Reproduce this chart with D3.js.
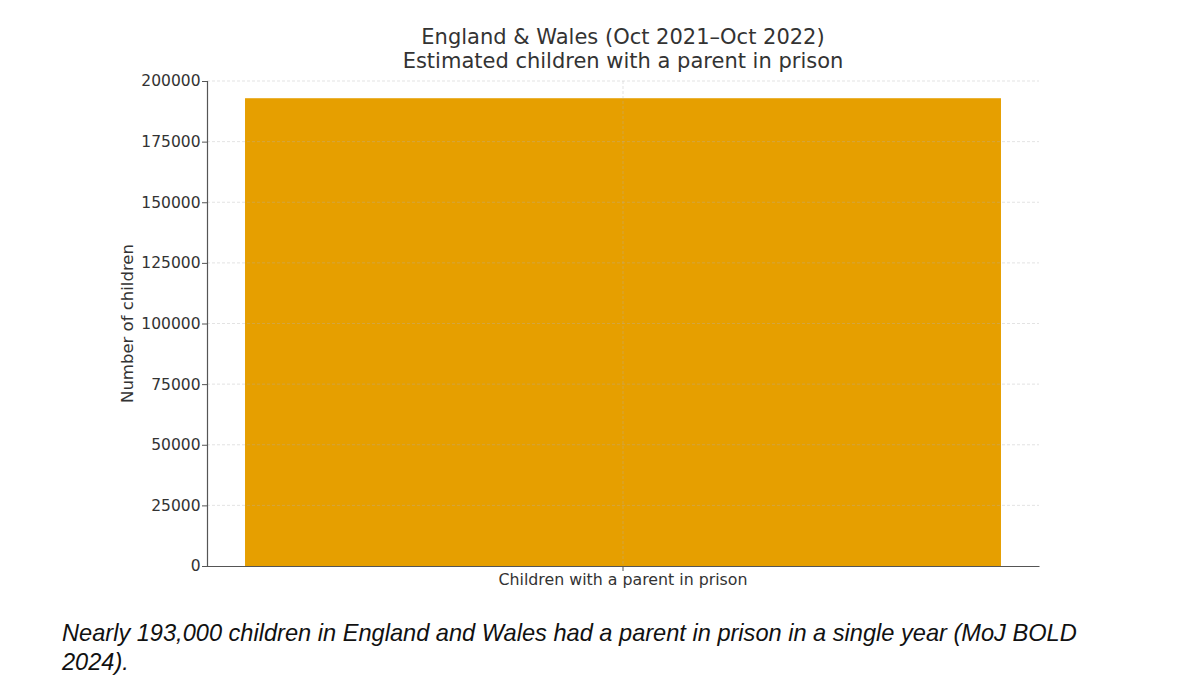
<!DOCTYPE html>
<html><head><meta charset="utf-8">
<script src="https://cdn.jsdelivr.net/npm/d3@7"></script>
<style>
body{margin:0;background:#fff;}
svg{display:block;}
</style></head><body>
<script>
const categories = ["Children with a parent in prison"];
const values = [192900];
const yTicks = [0, 25000, 50000, 75000, 100000, 125000, 150000, 175000, 200000];
const titleLines = ["England & Wales (Oct 2021\u2013Oct 2022)", "Estimated children with a parent in prison"];
const yLabel = "Number of children";
const captionLines = ["Nearly 193,000 children in England and Wales had a parent in prison in a single year (MoJ BOLD", "2024)."];

const W = 1194, H = 694;
const m = {left: 207, right: 1039, top: 81, bottom: 566};
const svg = d3.select("body").append("svg").attr("width", W).attr("height", H);
const textColor = "#333";
const font = "DejaVu Sans, sans-serif";

const x = d3.scaleBand().domain(categories).range([m.left, m.right]).paddingInner(0).paddingOuter(0.0503);
const y = d3.scaleLinear().domain([0, 200000]).range([m.bottom, m.top]);

// bars
svg.selectAll("rect.bar").data(values).join("rect").attr("class", "bar")
  .attr("x", (d, i) => x(categories[i]))
  .attr("width", x.bandwidth())
  .attr("y", d => y(d))
  .attr("height", d => y(0) - y(d))
  .attr("fill", "#E69F00");

// grid (drawn above bars, faint)
const grid = svg.append("g").attr("stroke", "#b0b0b0").attr("stroke-opacity", 0.45).attr("stroke-dasharray", "3,2").attr("stroke-width", 0.8);
grid.selectAll("line.h").data(yTicks.filter(t => t > 0)).join("line").attr("class", "h")
  .attr("x1", m.left).attr("x2", m.right).attr("y1", d => y(d)).attr("y2", d => y(d));
grid.selectAll("line.v").data(categories).join("line").attr("class", "v")
  .attr("x1", d => x(d) + x.bandwidth() / 2).attr("x2", d => x(d) + x.bandwidth() / 2)
  .attr("y1", m.top).attr("y2", m.bottom);

// y axis
const yAxis = svg.append("g").attr("transform", `translate(${m.left},0)`)
  .call(d3.axisLeft(y).tickValues(yTicks).tickFormat(d3.format("d")).tickSize(5).tickPadding(1.5));
yAxis.select(".domain").attr("stroke", "#555").attr("stroke-width", 1.2);
yAxis.selectAll(".tick line").attr("stroke", "#555");
yAxis.selectAll(".tick text").attr("fill", textColor).style("font-family", font).style("font-size", "15.5px");

// x axis
const xAxis = svg.append("g").attr("transform", `translate(0,${m.bottom})`)
  .call(d3.axisBottom(x).tickSize(5).tickPadding(3).tickSizeOuter(0));
xAxis.select(".domain").attr("stroke", "#555").attr("stroke-width", 1.2);
xAxis.selectAll(".tick line").attr("stroke", "#555");
xAxis.selectAll(".tick text").attr("fill", textColor).style("font-family", font).style("font-size", "15.8px");

// title
svg.append("text").attr("x", (m.left + m.right) / 2).attr("y", 44).attr("text-anchor", "middle")
  .attr("fill", textColor).style("font-family", font).style("font-size", "21px")
  .selectAll("tspan").data(titleLines).join("tspan")
  .attr("x", (m.left + m.right) / 2).attr("dy", (d, i) => i === 0 ? 0 : 24).text(d => d);

// y label
svg.append("text").attr("transform", `translate(133,${(m.top + m.bottom) / 2}) rotate(-90)`)
  .attr("text-anchor", "middle").attr("fill", textColor)
  .style("font-family", font).style("font-size", "16.5px").text(yLabel);

// caption
svg.append("text").attr("x", 62).attr("y", 641).attr("fill", "#111")
  .style("font-family", "Liberation Sans, Arial, sans-serif").style("font-style", "italic").style("font-size", "23.6px")
  .selectAll("tspan").data(captionLines).join("tspan")
  .attr("x", 62).attr("dy", (d, i) => i === 0 ? 0 : 29).text(d => d);
</script>
</body></html>
